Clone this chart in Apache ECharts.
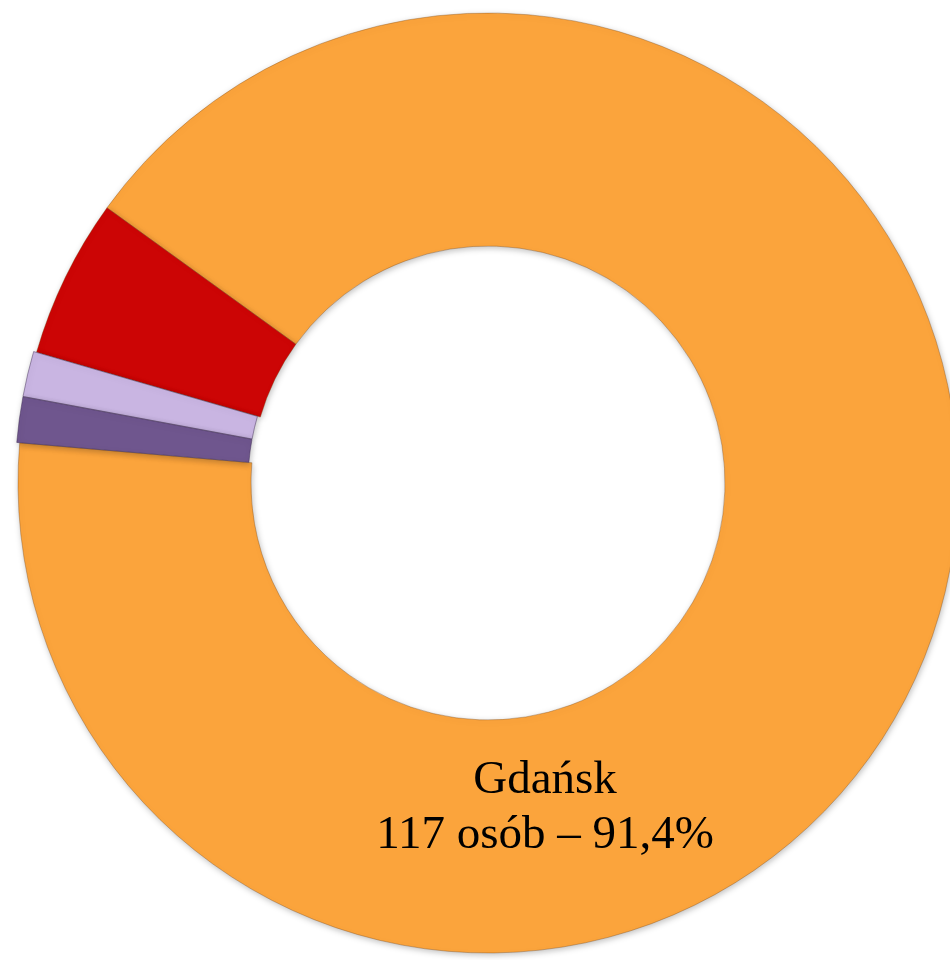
<!DOCTYPE html>
<html>
<head>
<meta charset="utf-8">
<script src="https://cdn.jsdelivr.net/npm/echarts@6/dist/echarts.min.js"></script>
<style>
html,body{margin:0;padding:0;background:#fff;}
#chart{width:950px;height:960px;}
</style>
</head>
<body>
<div id="chart"></div>
<script>
// Data
var categories = ['Gdańsk', 'Seria 2', 'Seria 3', 'Seria 4'];
var counts = [117, 7, 2, 2];
var colors = ['#FBA43C', '#CC0505', '#C9B5E2', '#6F568E'];
var labelShown = [true, false, false, false];
var pulledOut = [false, false, true, true];

var total = counts.reduce(function (a, b) { return a + b; }, 0);

var data = categories.map(function (name, i) {
  return {
    name: name,
    value: counts[i],
    selected: pulledOut[i],
    itemStyle: { color: colors[i] },
    label: { show: labelShown[i] }
  };
});

var chart = echarts.init(document.getElementById('chart'));
chart.setOption({
  animation: false,
  series: [{
    type: 'pie',
    center: [488, 483],
    radius: [237, 470],
    startAngle: 175.1,
    clockwise: false,
    selectedMode: 'multiple',
    selectedOffset: 3,
    avoidLabelOverlap: false,
    data: data,
    select: { itemStyle: { borderColor: 'rgba(60,40,80,0.45)', borderWidth: 1 } },
    emphasis: { disabled: true },
    itemStyle: {
      borderColor: 'rgba(120,70,20,0.35)',
      borderWidth: 1,
      shadowBlur: 6,
      shadowColor: 'rgba(0,0,0,0.25)',
      shadowOffsetX: 1,
      shadowOffsetY: 2
    },
    label: {
      position: 'inside',
      fontFamily: '"Liberation Serif", "DejaVu Serif", serif',
      fontSize: 47,
      lineHeight: 55,
      color: '#000',
      align: 'center',
      verticalAlign: 'middle',
      formatter: function (p) {
        var pct = (p.value / total * 100).toFixed(1).replace('.', ',');
        return p.name + '\n' + p.value + ' osób – ' + pct + '%';
      }
    },
    labelLine: { show: false },
    labelLayout: function (params) {
      if (params.dataIndex === 0) {
        return { x: 545, y: 808 };
      }
      return {};
    }
  }]
});
</script>
</body>
</html>
